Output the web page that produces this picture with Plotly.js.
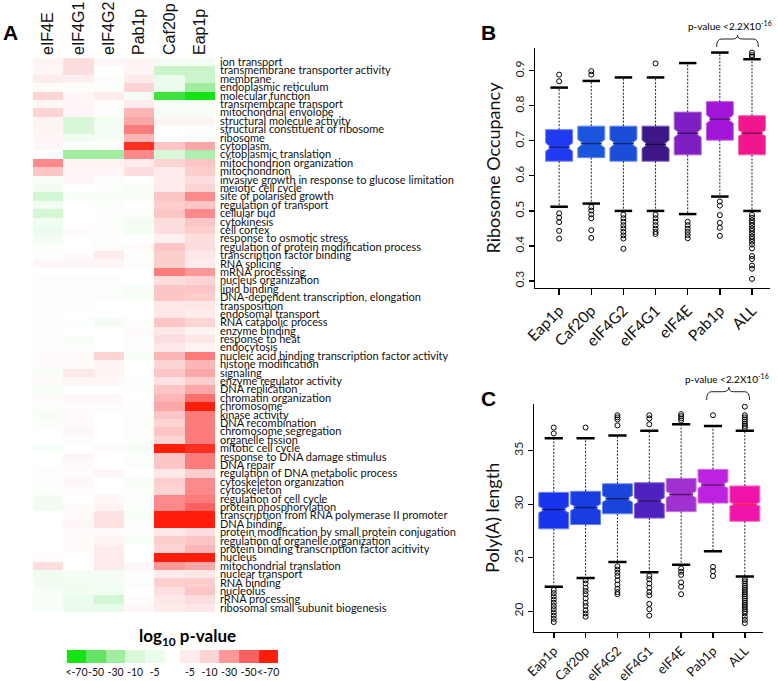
<!DOCTYPE html>
<html>
<head>
<meta charset="utf-8">
<script src="https://cdn.plot.ly/plotly-3.0.1.min.js"></script>
<style>html,body{margin:0;padding:0;background:#fff;}#chart{width:778px;height:681px;}</style>
</head>
<body>
<div id="chart"></div>
<script>
// ---------- Panel A data ----------
const proteins = ["eIF4E", "eIF4G1", "eIF4G2", "Pab1p", "Caf20p", "Eap1p"];
const goTerms = [
"ion transport","transmembrane transporter activity","membrane","endoplasmic reticulum","molecular function",
"transmembrane transport","mitochondrial envolope","structural molecule activity","structural constituent of ribosome","ribosome",
"cytoplasm","cytoplasmic translation","mitochondrion organization","mitochondrion","invasive growth in response to glucose limitation",
"meiotic cell cycle","site of polarised growth","regulation of transport","cellular bud","cytokinesis",
"cell cortex","response to osmotic stress","regulation of protein modification process","transcription factor binding","RNA splicing",
"mRNA processing","nucleus organization","lipid binding","DNA-dependent transcription, elongation","transposition",
"endosomal transport","RNA catabolic process","enzyme binding","response to heat","endocytosis",
"nucleic acid binding transcription factor activity","histone modification","signaling","enzyme regulator activity","DNA replication",
"chromatin organization","chromosome","kinase activity","DNA recombination","chromosome segregation",
"organelle fission","mitotic cell cycle","response to DNA damage stimulus","DNA repair","regulation of DNA metabolic process",
"cytoskeleton organization","cytoskeleton","regulation of cell cycle","protein phosphorylation","transcription from RNA polymerase II promoter",
"DNA binding","protein modification by small protein conjugation","regulation of organelle organization","protein binding transcription factor acitivity","nucleus",
"mitochondrial translation","nuclear transport","RNA binding","nucleolus","rRNA processing",
"ribosomal small subunit biogenesis"];
// signed -log10 p-value: positive = red (enriched), negative = green (depleted)
const eIF4E  = [3,2,5,1,10, 2,10,3,3,2, 2,0,35,15,-2, -4,-12,-4,-12,-4, -5,-3,-1,-1,2, 0,-1,-1,-1,-1, -1,-1,-1,-1,-1, 1,1,-2,1,-2, 1,-1,-2,-1,0, 0,-2,0,0,-1, -1,-1,-4,-4,0, 0,0,0,0,1, 8,-4,-4,-2,-2, -2];
const eIF4G1 = [8,8,4,-1,2, 2,2,-10,-10,-4, 0,-30,3,2,2, 0,-2,0,0,0, 1,0,0,1,2, 0,-1,-1,-1,-1, 0,-1,0,-2,-1, 1,1,6,2,0, 2,1,1,1,2, 1,0,2,1,1, 2,1,0,1,1, 2,1,1,1,0, 0,-3,-4,-4,-5, -5];
const eIF4G2 = [2,0,-1,-1,5, -1,-1,-4,-3,-2, 0,-30,3,2,-1, -1,-2,-1,-1,-1, -1,-1,1,5,2, 0,-1,-1,-1,0, 0,-3,0,0,0, 10,3,3,2,0, 2,1,0,0,0, 0,1,0,0,2, 0,0,2,3,7, 7,1,3,5,5, 5,-3,-3,-4,-12, -6];
const Pab1p  = [3,3,5,10,-3, 5,20,25,40,20, 65,35,5,8,0, -2,-2,0,-1,-3, -4,0,1,-1,-1, 0,0,-2,-2,0, 0,-1,1,-1,-1, -2,0,0,-1,-1, 0,-1,-1,-1,-1, -1,-2,-1,-1,0, -2,-1,-1,-1,-2, -1,-1,-2,0,0, 2,-1,-1,0,1, 2];
const Caf20p = [-3,-15,-5,-5,-60, -2,-2,3,0,0, 15,-10,10,5,5, 5,15,12,15,8, 8,4,15,12,12, 40,8,15,15,6, 6,15,6,8,6, 20,10,15,7,15, 20,25,15,10,15, 10,70,15,15,6, 12,10,35,35,70, 70,6,12,10,70, 30,5,12,8,6, 5];
const Eap1p  = [-3,-15,-15,-30,-70, -2,-2,3,-1,-1, 25,-25,15,12,8, 10,35,15,35,15, 12,8,8,6,5, 30,10,15,12,6, 5,10,3,6,3, 40,20,25,12,25, 45,70,40,40,40, 40,65,40,40,12, 35,35,40,50,70, 70,8,15,20,70, 25,6,12,15,8, 6];

const legendGreenVals = [-70, -50, -30, -10, -5];
const legendRedVals = [5, 10, 30, 50, 70];
const legendGreenLabels = ["<-70", "-50", "-30", "-10", "-5"];
const legendRedLabels = ["-5", "-10", "-30", "-50", "<-70"];

// ---------- Panels B & C data ----------
const categories = ["Eap1p", "Caf20p", "eIF4G2", "eIF4G1", "eIF4E", "Pab1p", "ALL"];
const riboQ1     = [0.642, 0.652, 0.642, 0.642, 0.660, 0.702, 0.660];
const riboMedian = [0.682, 0.692, 0.692, 0.690, 0.722, 0.762, 0.722];
const riboQ3     = [0.732, 0.742, 0.742, 0.742, 0.782, 0.812, 0.772];
const riboLower  = [0.512, 0.521, 0.500, 0.500, 0.491, 0.541, 0.500];
const riboUpper  = [0.852, 0.871, 0.881, 0.881, 0.922, 0.952, 0.933];
const riboNotch  = [0.012, 0.012, 0.012, 0.012, 0.012, 0.012, 0.008];
const riboOutliers = [
  [0.889, 0.870, 0.493, 0.481, 0.468, 0.443, 0.421],
  [0.899, 0.889, 0.511, 0.501, 0.490, 0.479, 0.445, 0.423],
  [0.489, 0.479, 0.469, 0.459, 0.450, 0.440, 0.430, 0.421, 0.392],
  [0.921, 0.489, 0.479, 0.469, 0.459, 0.449, 0.440, 0.434],
  [0.469, 0.459, 0.449, 0.440, 0.431, 0.422],
  [0.527, 0.515, 0.488, 0.466, 0.452, 0.429],
  [0.952, 0.945, 0.940, 0.489, 0.481, 0.473, 0.466, 0.458, 0.450, 0.443, 0.435, 0.427, 0.420, 0.412, 0.404, 0.393, 0.371, 0.363, 0.344, 0.335, 0.306]
];

const polyQ1     = [27.7, 28.1, 29.1, 28.7, 29.3, 30.1, 28.4];
const polyMedian = [29.5, 29.7, 30.5, 30.3, 30.9, 31.8, 30.0];
const polyQ3     = [31.1, 31.2, 31.9, 32.0, 32.4, 33.25, 31.7];
const polyLower  = [22.3, 23.1, 24.6, 23.65, 24.35, 25.6, 23.25];
const polyUpper  = [36.15, 36.15, 36.4, 36.85, 37.45, 37.3, 36.85];
const polyNotch  = [0.3, 0.3, 0.3, 0.3, 0.3, 0.3, 0.15];
const polyOutliers = [
  [37.15, 36.6, 22.0, 21.7, 21.4, 21.1, 20.8, 20.5, 20.2, 19.9, 19.6, 19.3, 19.0],
  [37.15, 22.9, 22.6, 22.2, 21.9, 21.6, 21.2, 20.8, 20.5, 20.1, 19.8, 19.5],
  [38.3, 38.1, 37.9, 37.35, 24.2, 23.9, 23.6, 23.3, 22.9, 22.5, 22.1, 21.8, 21.6],
  [38.3, 38.0, 37.45, 23.3, 23.0, 22.6, 22.2, 21.8, 21.5, 20.7, 20.2, 19.6],
  [38.4, 38.2, 38.0, 37.8, 24.0, 23.7, 23.4, 22.7, 22.3, 21.6],
  [38.3, 24.15, 23.75, 23.3],
  [39.1, 38.3, 38.1, 37.9, 37.7, 37.5, 37.3, 37.1, 23.0, 22.8, 22.6, 22.4, 22.2, 22.0, 21.8, 21.6, 21.4, 21.2, 21.0, 20.8, 20.6, 20.4, 20.2, 20.0, 19.8, 19.5, 19.2, 18.9]
];

// ---------- styles ----------
const colorscale = [
  [0, "rgb(20,228,20)"], [20/140, "rgb(100,228,100)"], [40/140, "rgb(160,236,160)"],
  [60/140, "rgb(216,248,216)"], [65/140, "rgb(236,252,236)"], [0.5, "rgb(255,255,255)"],
  [75/140, "rgb(254,236,236)"], [80/140, "rgb(253,212,212)"], [100/140, "rgb(252,152,152)"],
  [120/140, "rgb(252,96,96)"], [1, "rgb(255,30,10)"]
];
const fillB = ["#1f3af2", "#1a55de", "#1c4dd8", "#3b1788", "#7e1fc4", "#a214d6", "#f2158e"];
const lineB = ["#6c7ef6", "#6890ea", "#6a8ae6", "#7a5cb0", "#a66ad8", "#c266e4", "#f66ab8"];
const medB  = ["#0c1a80", "#0c2a7a", "#0c267a", "#1c0a48", "#3c0a66", "#560a72", "#7a0a48"];
const fillC = ["#1834ec", "#1a3de2", "#1b44da", "#4f22bf", "#a030cf", "#bd22e0", "#f013a9"];
const lineC = ["#6a7ef4", "#6a82ec", "#6a88e6", "#8a68d6", "#c07ae0", "#d470ec", "#f66ac8"];
const medC  = ["#0a1680", "#0a1c7a", "#0a2276", "#2a0a68", "#56106e", "#660a7a", "#ff2040"];
const FONT = "Lato, 'Liberation Sans', sans-serif";

// ---------- build traces ----------
const z = goTerms.map((_, r) => [eIF4E[r], eIF4G1[r], eIF4G2[r], Pab1p[r], Caf20p[r], Eap1p[r]]);
const traces = [];
traces.push({type: "heatmap", x: proteins, y: goTerms, z: z, colorscale: colorscale, zmin: -70, zmax: 70,
  showscale: false, xaxis: "x", yaxis: "y", hoverinfo: "x+y+z"});
traces.push({type: "heatmap", x: legendGreenVals.map((_, i) => i), y: [0], z: [legendGreenVals],
  colorscale: colorscale, zmin: -70, zmax: 70, showscale: false, xaxis: "x2", yaxis: "y2"});
traces.push({type: "heatmap", x: legendRedVals.map((_, i) => i + 5.8), y: [0], z: [legendRedVals],
  colorscale: colorscale, zmin: -70, zmax: 70, showscale: false, xaxis: "x2", yaxis: "y2"});

function addBoxPanel(xa, ya, q1, med, q3, lo, up, notch, outl, fill, line, medc, bw, medSize, capSize) {
  const wx = [], wy = [];
  categories.forEach((c, i) => {
    wx.push(i, i, null, i, i, null);
    wy.push(q3[i], up[i], null, q1[i], lo[i], null);
  });
  traces.push({type: "scatter", mode: "lines", x: wx, y: wy, xaxis: xa, yaxis: ya,
    line: {color: "rgb(30,30,70)", width: 1, dash: "2px,1.5px"}, hoverinfo: "skip"});
  categories.forEach((c, i) => {
    traces.push({type: "box", x: [i], q1: [q1[i]], median: [med[i]], q3: [q3[i]],
      lowerfence: [lo[i]], upperfence: [up[i]], notchspan: [notch[i]], notched: true, notchwidth: 0.2,
      showwhiskers: false, boxpoints: false, width: bw, fillcolor: fill[i],
      line: {color: line[i], width: 1}, name: c, xaxis: xa, yaxis: ya});
  });
  traces.push({type: "scatter", mode: "markers", x: categories.map((c, i) => i), y: med, xaxis: xa, yaxis: ya,
    marker: {symbol: "line-ew", size: medSize, line: {color: medc, width: 1.5}}, hoverinfo: "skip"});
  const cx = [], cy = [];
  categories.forEach((c, i) => { cx.push(i, i); cy.push(up[i], lo[i]); });
  traces.push({type: "scatter", mode: "markers", x: cx, y: cy, xaxis: xa, yaxis: ya,
    marker: {symbol: "line-ew", size: capSize, line: {color: "black", width: 2.5}}, hoverinfo: "skip"});
  const ox = [], oy = [];
  outl.forEach((arr, i) => arr.forEach(v => { ox.push(i); oy.push(v); }));
  traces.push({type: "scatter", mode: "markers", x: ox, y: oy, xaxis: xa, yaxis: ya,
    marker: {symbol: "circle-open", size: 5, color: "black", line: {color: "black", width: 1}}});
}
addBoxPanel("x3", "y3", riboQ1, riboMedian, riboQ3, riboLower, riboUpper, riboNotch, riboOutliers, fillB, lineB, medB, 0.84, 15, 12.5);
addBoxPanel("x4", "y4", polyQ1, polyMedian, polyQ3, polyLower, polyUpper, polyNotch, polyOutliers, fillC, lineC, medC, 0.94, 17, 13);

// ---------- layout ----------
const boxX = (dom, rng, ya, fs, tl) => ({domain: dom, range: rng, anchor: ya, tickmode: "array", tickvals: categories.map((c, i) => i),
  ticktext: categories, tickangle: -45, ticks: "outside", ticklen: tl, tickwidth: 1.5, tickcolor: "black",
  showline: true, linecolor: "black", linewidth: 1.5, showgrid: false, zeroline: false, ticklabelstandoff: 0,
  tickfont: {family: FONT, size: fs, color: "#111"}});
const boxY = (dom, rng, tv, title, xa) => ({domain: dom, range: rng, tickvals: tv, tickangle: -90,
  ticks: "outside", ticklen: 5, tickwidth: 1.2, tickcolor: "black", showline: true, linecolor: "black", linewidth: 1.5,
  showgrid: false, zeroline: false, tickfont: {family: FONT, size: 12, color: "#222"}, anchor: xa,
  title: {text: title, font: {family: FONT, size: 18, color: "#111"}, standoff: 6}});
const ann = (text, x, y, size, fam) => ({text: text, xref: "paper", yref: "paper", x: x / 778, y: 1 - y / 681,
  xanchor: "center", yanchor: "middle", showarrow: false, font: {family: fam || FONT, size: size, color: "#000"}});

const layout = {
  width: 778, height: 681, margin: {l: 0, r: 0, t: 0, b: 0}, showlegend: false,
  paper_bgcolor: "white", plot_bgcolor: "white", boxmode: "overlay",
  xaxis: {domain: [0.0424, 0.2763], side: "top", tickangle: -90, ticks: "", showgrid: false, zeroline: false,
    showline: false, anchor: "y", ticklabelstandoff: 2,
    tickfont: {family: "'Liberation Sans', Arial, sans-serif", size: 16, color: "#111"}},
  yaxis: {domain: [0.1013, 0.9148], side: "right", autorange: "reversed", tickmode: "array", tickvals: goTerms,
    ticktext: goTerms, ticks: "", showgrid: false, zeroline: false, showline: false, anchor: "x", ticklabelstandoff: 4,
    tickfont: {family: FONT, size: 11, color: "#111"}},
  xaxis2: {domain: [0.0857, 0.3573], range: [-0.5, 10.3], anchor: "y2", tickmode: "array", tickangle: 0,
    tickvals: legendGreenVals.map((_, i) => i).concat(legendRedVals.map((_, i) => i + 5.8)),
    ticktext: legendGreenLabels.concat(legendRedLabels), ticks: "", showgrid: false, zeroline: false, showline: false,
    ticklabelstandoff: 1, tickfont: {family: FONT, size: 10.5, color: "#111"}},
  yaxis2: {domain: [0.0264, 0.0455], range: [-0.5, 0.5], anchor: "x2", visible: false},
  xaxis3: boxX([0.6877, 0.9897], [-0.75, 6.56], "y3", 15.5, 6),
  yaxis3: boxY([0.5771, 0.9295], [0.28, 0.965], [0.3, 0.4, 0.5, 0.6, 0.7, 0.8, 0.9], "Ribosome Occupancy", "x3"),
  xaxis4: boxX([0.6864, 0.9807], [-0.62, 6.57], "y4", 13, 5),
  yaxis4: boxY([0.0724, 0.4068], [18.1, 39.35], [20, 25, 30, 35], "Poly(A) length", "x4"),
  annotations: [
    ann("<b>A</b>", 10, 32, 21, "'Liberation Sans', Arial"),
    ann("<b>B</b>", 488, 32, 21, "'Liberation Sans', Arial"),
    ann("<b>C</b>", 488, 398, 21, "'Liberation Sans', Arial"),
    ann("<b>log<sub>10</sub> p-value</b>", 187.5, 637, 17),
    ann("p-value &lt;2.2X10<sup>-16</sup>", 730, 26, 10),
    ann("p-value &lt;2.2X10<sup>-16</sup>", 727, 378, 10)
  ],
  shapes: [
    {type: "path", xref: "x3", yref: "paper", line: {color: "#222", width: 1},
      path: "M4.9,0.931 Q4.9,0.9427 5.05,0.9427 L5.4,0.9427 Q5.55,0.9427 5.55,0.9486 Q5.55,0.9427 5.7,0.9427 L6.05,0.9427 Q6.2,0.9427 6.2,0.931"},
    {type: "path", xref: "x4", yref: "paper", line: {color: "#222", width: 1},
      path: "M4.8,0.4126 Q4.8,0.4248 4.95,0.4248 L5.3,0.4248 Q5.5,0.4248 5.5,0.4313 Q5.5,0.4248 5.65,0.4248 L6.0,0.4248 Q6.15,0.4248 6.15,0.4126"}
  ]
};
Plotly.newPlot("chart", traces, layout, {displayModeBar: false, staticPlot: true});
</script>
</body>
</html>
